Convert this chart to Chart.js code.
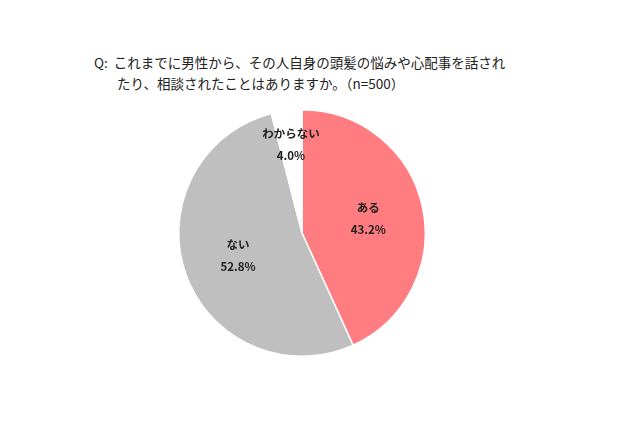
<!DOCTYPE html>
<html><head><meta charset="utf-8">
<script src="https://cdn.jsdelivr.net/npm/chart.js@4"></script>
<style>
body{margin:0;width:640px;height:426px;background:#fff;position:relative;font-family:"Noto Sans CJK JP",sans-serif;}
.t{position:absolute;font-size:13.5px;color:#222;white-space:nowrap;line-height:20px;}
#wrap{position:absolute;left:176px;top:107px;width:252px;height:252px;}
</style></head><body>
<div class="t" style="left:94px;top:52px;">Q:&nbsp; これまでに男性から、その人自身の頭髪の悩みや心配事を話され</div>
<div class="t" style="left:117px;top:73px;">たり、相談されたことはありますか。（n=500）</div>
<div id="wrap"><canvas id="c"></canvas></div>
<script>
const categories=["ある","ない","わからない"];
const values=[43.2,52.8,4.0];
const colors=["#FF7C80","#BFBFBF","#FFFFFF"];
const labelPlugin={id:"lbl",afterDatasetsDraw(chart){
  const ctx=chart.ctx;const meta=chart.getDatasetMeta(0);
  meta.data.forEach((arc,i)=>{
    const a=(arc.startAngle+arc.endAngle)/2;
    const f=values[i]<10?0.72:0.55;
    const x=arc.x+Math.cos(a)*arc.outerRadius*f;
    const y=arc.y+Math.sin(a)*arc.outerRadius*f;
    ctx.save();ctx.fillStyle="#222";ctx.font="bold 11.5px 'Noto Sans CJK JP'";
    ctx.textAlign="center";ctx.textBaseline="middle";
    ctx.fillText(categories[i],x,y-11);
    ctx.fillText(values[i].toFixed(1)+"%",x,y+11);
    ctx.restore();
  });
}};
new Chart(document.getElementById("c"),{type:"pie",
 data:{labels:categories,datasets:[{data:values,backgroundColor:colors,borderColor:"#fff",borderWidth:1.5}]},
 options:{responsive:true,maintainAspectRatio:false,animation:false,layout:{padding:2},
  plugins:{legend:{display:false},tooltip:{enabled:false}}},
 plugins:[labelPlugin]});
</script></body></html>
